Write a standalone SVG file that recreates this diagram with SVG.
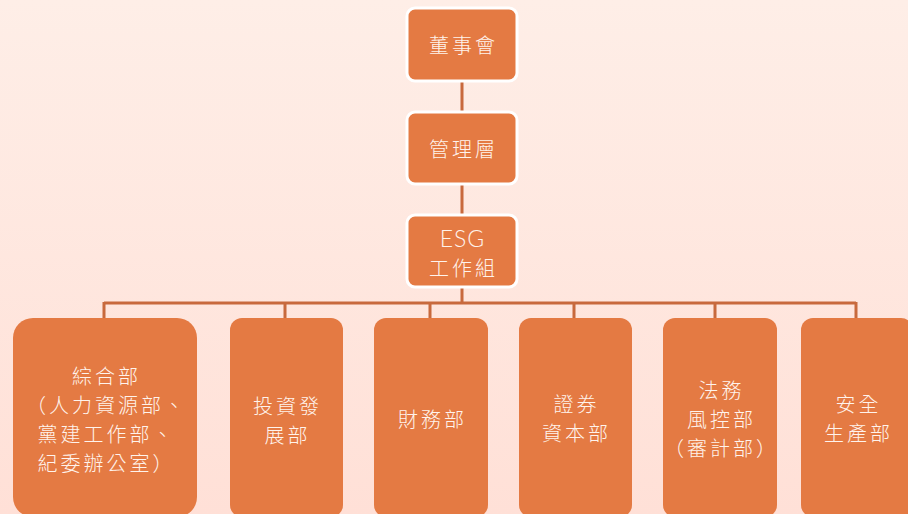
<svg xmlns="http://www.w3.org/2000/svg" width="908" height="514" viewBox="0 0 908 514">
<defs>
<linearGradient id="bg" x1="0" y1="0" x2="0" y2="1">
<stop offset="0" stop-color="#FEEEE7"/>
<stop offset="1" stop-color="#FFE0D7"/>
</linearGradient>
<style>
.top{fill:#E47A43;stroke:#FFFFFF;stroke-width:3}
.dept{fill:#E47A43}
.t{font-family:"Noto Sans CJK TC","Noto Sans CJK SC",sans-serif;font-weight:300;font-size:20px;letter-spacing:3px;fill:#FFF3EC;text-anchor:middle;dominant-baseline:central}
.e{font-family:Lato,"Open Sans",sans-serif;font-weight:300;font-size:23px;letter-spacing:1px;fill:#FFF3EC;text-anchor:middle;dominant-baseline:central}
.c{stroke:#C8693D;stroke-width:3;fill:none}
</style>
</defs>
<rect width="908" height="514" fill="url(#bg)"/>
<g id="connectors">
<path class="c" d="M462 81V112M462 184V215M462 287V303M104 303H856M104 302V318M285 302V318M430 302V318M574 302V318M715 302V318M856 302V318"/>
</g>
<g id="n1"><rect class="top" x="407" y="8" width="110" height="73" rx="8"/><text class="t" x="463.5" y="44">董事會</text></g>
<g id="n2"><rect class="top" x="407" y="112" width="110" height="72" rx="8"/><text class="t" x="463.5" y="148">管理層</text></g>
<g id="n3"><rect class="top" x="407" y="215" width="110" height="72" rx="8"/><text class="e" x="462.5" y="238">ESG</text><text class="t" x="463.5" y="267">工作組</text></g>
<g id="d1"><rect class="dept" x="13" y="318" width="184" height="199" rx="20"/><text class="t" x="106.5" y="375">綜合部</text><text class="t" x="106.5" y="404">（人力資源部、</text><text class="t" x="106.5" y="433">黨建工作部、</text><text class="t" x="106.5" y="462">紀委辦公室）</text></g>
<g id="d2"><rect class="dept" x="230" y="318" width="113" height="199" rx="12"/><text class="t" x="287.5" y="405">投資發</text><text class="t" x="287.5" y="434">展部</text></g>
<g id="d3"><rect class="dept" x="374" y="318" width="114" height="199" rx="12"/><text class="t" x="432.5" y="418">財務部</text></g>
<g id="d4"><rect class="dept" x="519" y="318" width="113" height="199" rx="12"/><text class="t" x="576.5" y="403">證券</text><text class="t" x="576.5" y="432">資本部</text></g>
<g id="d5"><rect class="dept" x="663" y="318" width="114" height="199" rx="12"/><text class="t" x="721.5" y="389">法務</text><text class="t" x="721.5" y="418">風控部</text><text class="t" x="721.5" y="447">（審計部）</text></g>
<g id="d6"><rect class="dept" x="801" y="318" width="112" height="199" rx="12"/><text class="t" x="858.5" y="403">安全</text><text class="t" x="858.5" y="432">生產部</text></g>
</svg>
